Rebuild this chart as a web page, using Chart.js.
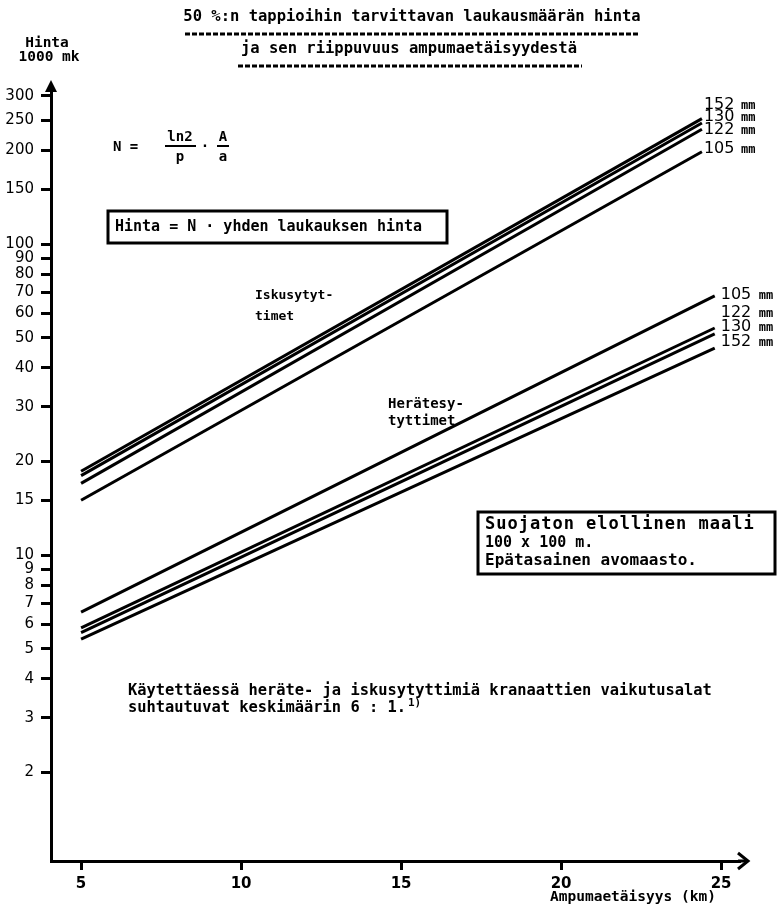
<!DOCTYPE html>
<html>
<head>
<meta charset="utf-8">
<script src="https://cdn.jsdelivr.net/npm/chart.js@4.4.1/dist/chart.umd.min.js"></script>
<style>
html,body{margin:0;padding:0;background:#fff;}
#wrap{width:781px;height:908px;position:relative;}
</style>
</head>
<body>
<div id="wrap"><canvas id="c" width="781" height="908"></canvas></div>
<script>
// ---- data ----
const calibres = ['152', '130', '122', '105'];
const startKm = 5;
const iskuEndKm = 24.4;      // Iskusytyttimet lines end
const heraEndKm = 24.8;      // Herätesytyttimet lines end
const iskuStart = [18.6, 18.0, 17.0, 15.0];   // price (1000 mk) at 5 km
const iskuEnd   = [253, 245, 234, 198];       // price at end
const heraStart = [5.37, 5.63, 5.83, 6.55];
const heraEnd   = [46.3, 51.4, 53.7, 68.1];
const yTickValues = [2,3,4,5,6,7,8,9,10,15,20,30,40,50,60,70,80,90,100,150,200,250,300];
const xTickValues = [5,10,15,20,25];

const datasets = [];
calibres.forEach((c,i)=>{
  datasets.push({label:'Iskusytyttimet '+c+' mm', data:[{x:startKm,y:iskuStart[i]},{x:iskuEndKm,y:iskuEnd[i]}]});
});
calibres.forEach((c,i)=>{
  datasets.push({label:'Herätesytyttimet '+c+' mm', data:[{x:startKm,y:heraStart[i]},{x:heraEndKm,y:heraEnd[i]}]});
});
datasets.forEach(d=>{ d.borderColor='#000'; d.borderWidth=3; d.pointRadius=0; d.fill=false; d.tension=0; });

const MONO = '"DejaVu Sans Mono", "Liberation Mono", monospace';
const SANS = '"DejaVu Sans", sans-serif';

const annot = {
  id:'annot',
  afterDraw(chart){
    const ctx = chart.ctx, xs = chart.scales.x, a = chart.chartArea;
    ctx.save();
    ctx.fillStyle = '#000'; ctx.strokeStyle = '#000';
    // axis arrows
    const ax = a.left;
    ctx.beginPath(); ctx.moveTo(ax, a.top-8); ctx.lineTo(ax-6, a.top+4); ctx.lineTo(ax+6, a.top+4); ctx.closePath(); ctx.fill();
    ctx.lineWidth = 3; ctx.beginPath(); ctx.moveTo(ax, a.top+4); ctx.lineTo(ax, a.top-4); ctx.stroke();
    const ay = a.bottom;
    ctx.lineWidth = 3; ctx.beginPath(); ctx.moveTo(a.right-2, ay); ctx.lineTo(a.right+6, ay); ctx.stroke();
    ctx.beginPath(); ctx.moveTo(a.right-2, ay-8); ctx.lineTo(a.right+8, ay); ctx.lineTo(a.right-2, ay+8); ctx.stroke();

    // titles
    ctx.textBaseline = 'middle';
    ctx.font = 'bold 15.5px ' + MONO; ctx.textAlign = 'center';
    ctx.fillText('50 %:n tappioihin tarvittavan laukausmäärän hinta', 412, 17);
    ctx.fillText('ja sen riippuvuus ampumaetäisyydestä', 409, 49);
    ctx.lineWidth = 3; ctx.setLineDash([5,2]);
    ctx.beginPath(); ctx.moveTo(185, 34); ctx.lineTo(640, 34); ctx.stroke();
    ctx.beginPath(); ctx.moveTo(238, 66); ctx.lineTo(582, 66); ctx.stroke();
    ctx.setLineDash([]);

    // y-axis caption
    ctx.font = 'bold 14.5px ' + MONO;
    ctx.fillText('Hinta', 47, 43);
    ctx.fillText('1000 mk', 49, 57);

    // formula
    ctx.font = 'bold 14px ' + MONO; ctx.textAlign = 'left';
    ctx.fillText('N =', 113, 147);
    ctx.textAlign = 'center';
    ctx.fillText('ln2', 180, 137); ctx.fillText('p', 180, 157);
    ctx.lineWidth = 2; ctx.beginPath(); ctx.moveTo(165,146); ctx.lineTo(196,146); ctx.stroke();
    ctx.fillText('·', 205, 147);
    ctx.fillText('A', 223, 137); ctx.fillText('a', 223, 157);
    ctx.beginPath(); ctx.moveTo(217,146); ctx.lineTo(229,146); ctx.stroke();

    // boxes
    ctx.lineWidth = 3;
    ctx.strokeRect(108, 211, 339, 32);
    ctx.font = 'bold 15px ' + MONO; ctx.textAlign = 'left';
    ctx.fillText('Hinta = N · yhden laukauksen hinta', 115, 227);
    ctx.strokeRect(478, 512, 297, 62);
    ctx.font = 'bold 17px ' + MONO;
    ctx.letterSpacing = '1px';
    ctx.fillText('Suojaton elollinen maali', 485, 525);
    ctx.letterSpacing = '0px';
    ctx.font = 'bold 15px ' + MONO;
    ctx.fillText('100 x 100 m.', 485, 543);
    ctx.font = 'bold 16px ' + MONO;
    ctx.fillText('Epätasainen avomaasto.', 485, 561);

    // group labels
    ctx.font = 'bold 13px ' + MONO;
    ctx.fillText('Iskusytyt-', 255, 296);
    ctx.fillText('timet', 255, 317);
    ctx.font = 'bold 14px ' + MONO;
    ctx.fillText('Herätesy-', 388, 404);
    ctx.fillText('tyttimet', 388, 421);

    // note
    ctx.font = 'bold 15.4px ' + MONO;
    ctx.fillText('Käytettäessä heräte- ja iskusytyttimiä kranaattien vaikutusalat', 128, 691);
    ctx.fillText('suhtautuvat keskimäärin 6 : 1.', 128, 708);
    ctx.font = 'bold 11px ' + MONO;
    ctx.fillText('1)', 408, 703);

    // x caption
    ctx.font = 'bold 14.5px ' + MONO; ctx.textAlign = 'left';
    ctx.fillText('Ampumaetäisyys (km)', 550, 897);

    // line labels (order per calibres: 152, 130, 122, 105)
    const upY = [105, 117, 130, 149];
    const loY = [342, 327, 313, 295];
    const ux = xs.getPixelForValue(iskuEndKm) + 2;
    const lx = xs.getPixelForValue(heraEndKm) + 6;
    calibres.forEach((c,i)=>{
      ctx.font = '16px ' + SANS; ctx.textAlign='left';
      ctx.fillText(c, ux, upY[i]);
      ctx.fillText(c, lx, loY[i]);
      ctx.font = 'bold 12px ' + MONO;
      ctx.fillText('mm', ux+37, upY[i]+1);
      ctx.fillText('mm', lx+38, loY[i]+1);
    });
    ctx.restore();
  }
};

new Chart(document.getElementById('c'), {
  type:'line',
  data:{datasets},
  options:{
    responsive:false, animation:false,
    layout:{padding:{top:88, right:41, left:0, bottom:0}},
    plugins:{legend:{display:false}, tooltip:{enabled:false}, title:{display:false}},
    scales:{
      x:{
        type:'linear', min:4.06, max:25.59,
        afterBuildTicks(s){ s.ticks = xTickValues.map(v=>({value:v})); },
        afterFit(s){ s.height = 47; },
        border:{display:true, width:3, color:'#000'},
        grid:{drawOnChartArea:false, drawTicks:true, tickLength:9, tickWidth:3, tickColor:'#000'},
        ticks:{color:'#000', font:{family:'"DejaVu Sans", sans-serif', size:15, weight:'bold'}, padding:5, autoSkip:false, maxRotation:0, callback:v=>String(v)}
      },
      y:{
        type:'logarithmic', min:1.038, max:317.5,
        afterBuildTicks(s){ s.ticks = yTickValues.map(v=>({value:v})); },
        afterFit(s){ s.width = 51; },
        border:{display:true, width:3, color:'#000'},
        grid:{drawOnChartArea:false, drawTicks:true, tickLength:10, tickWidth:3, tickColor:'#000'},
        ticks:{color:'#000', font:{family:'"DejaVu Sans", sans-serif', size:15}, padding:7, autoSkip:false, callback:v=>String(v)}
      }
    }
  },
  plugins:[annot]
});
</script>
</body>
</html>
